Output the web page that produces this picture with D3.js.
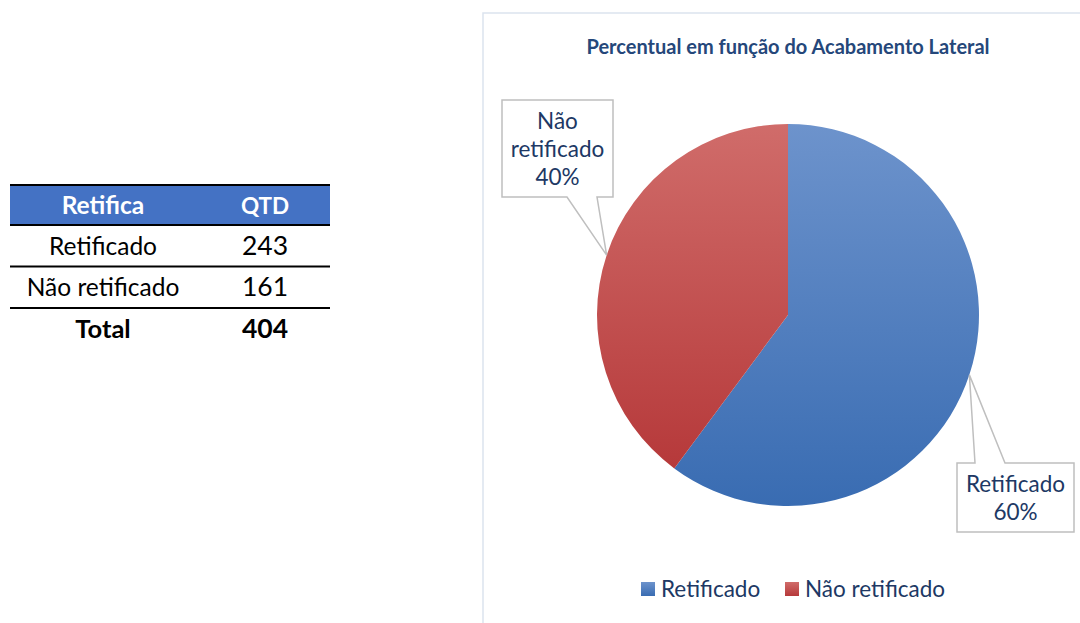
<!DOCTYPE html>
<html>
<head>
<meta charset="utf-8">
<script src="https://cdn.jsdelivr.net/npm/d3@7"></script>
<style>
  body { margin: 0; background: #fff; }
  svg { display: block; font-family: Lato, "Open Sans", sans-serif; }
</style>
</head>
<body>
<div id="chart"></div>
<script>
// data
const categories = ['Retificado', 'Não retificado'];
const quantities = [243, 161];
const tableHeader = ['Retifica', 'QTD'];
const chartTitle = 'Percentual em função do Acabamento Lateral';

const width = 1080, height = 623;
const svg = d3.select('#chart').append('svg')
    .attr('width', width)
    .attr('height', height);

const defs = svg.append('defs');
const gradStops = [
    ['#6d93cc', '#396cb2'],
    ['#d06c6a', '#b6393a']
];
gradStops.forEach((s, i) => {
    const g = defs.append('linearGradient')
        .attr('id', 'grad' + i)
        .attr('x1', 0).attr('y1', 0).attr('x2', 0).attr('y2', 1);
    g.append('stop').attr('offset', '0%').attr('stop-color', s[0]);
    g.append('stop').attr('offset', '100%').attr('stop-color', s[1]);
});

// ---- table ----
const tbl = svg.append('g').attr('class', 'table');
const tX = 10, tW = 320;
const colX = d3.scaleOrdinal().domain([0, 1]).range([103, 265]);
const headerTop = 185, headerH = 40;
const rowY = d3.scaleBand()
    .domain(d3.range(3))
    .range([headerTop + headerH, headerTop + headerH + 3 * 41.5]);

tbl.append('rect')
    .attr('x', tX).attr('y', headerTop)
    .attr('width', tW).attr('height', headerH)
    .attr('fill', '#4472c4');
tbl.append('line')
    .attr('x1', tX).attr('x2', tX + tW)
    .attr('y1', headerTop).attr('y2', headerTop)
    .attr('stroke', '#000').attr('stroke-width', 2);

tbl.selectAll('.hdr')
    .data(tableHeader)
    .enter().append('text')
    .attr('class', 'hdr')
    .attr('x', (d, i) => colX(i))
    .attr('y', headerTop + 29)
    .attr('text-anchor', 'middle')
    .attr('fill', '#fff')
    .style('font-weight', 'bold')
    .style('font-size', (d, i) => i === 1 ? '22.5px' : '24.5px')
    .text(d => d);

const total = d3.sum(quantities);
const rows = categories.map((c, i) => ({ label: c, value: quantities[i], bold: false }))
    .concat([{ label: 'Total', value: total, bold: true }]);

rows.forEach((r, i) => {
    const y0 = rowY(i);
    const rh = rowY.bandwidth();
    [r.label, r.value].forEach((t, j) => {
        tbl.append('text')
            .attr('x', colX(j))
            .attr('y', y0 + rh / 2 + 9)
            .attr('text-anchor', 'middle')
            .attr('fill', '#000')
            .style('font-size', j === 1 ? '26.5px' : (r.bold ? '25.5px' : '24.5px'))
            .style('font-weight', r.bold ? 'bold' : 'normal')
            .text(t);
    });
    // border above every row (the first is the header bottom)
    tbl.append('line')
        .attr('x1', tX).attr('x2', tX + tW)
        .attr('y1', y0).attr('y2', y0)
        .attr('stroke', '#000').attr('stroke-width', 2);
});

// ---- chart frame ----
svg.append('path')
    .attr('d', `M483,${height} V13 H${width}`)
    .attr('fill', 'none')
    .attr('stroke', '#dbe3ee')
    .attr('stroke-width', 1.5);

svg.append('text')
    .attr('x', 788).attr('y', 54)
    .attr('text-anchor', 'middle')
    .attr('fill', '#25477a')
    .style('font-weight', 'bold')
    .style('font-size', '20px')
    .text(chartTitle);

// ---- pie ----
const cx = 788, cy = 315, r = 191;
const pie = d3.pie().sort(null).value(d => d.value);
const arcs = pie(categories.map((c, i) => ({ name: c, value: quantities[i] })));
const arc = d3.arc().innerRadius(0).outerRadius(r);
const edge = d3.arc().innerRadius(r).outerRadius(r);

const pieG = svg.append('g').attr('transform', `translate(${cx},${cy})`);
pieG.selectAll('path.slice')
    .data(arcs)
    .enter().append('path')
    .attr('class', 'slice')
    .attr('d', arc)
    .attr('fill', (d, i) => `url(#grad${i})`);

// callouts
const fmt = d3.format('.0%');
const callouts = [
    { box: [957, 463, 117, 69], base: [975, 1005], side: 'top', lines: d => [d.data.name, fmt(d.value / total)] },
    { box: [502, 100, 111, 97], base: [567, 597], side: 'bottom', lines: d => ['Não', 'retificado', fmt(d.value / total)] }
];

arcs.forEach((d, i) => {
    const c = callouts[i];
    const [bx, by, bw, bh] = c.box;
    const tip = edge.centroid(d);
    const tx = tip[0] + cx, ty = tip[1] + cy;
    let p;
    if (c.side === 'top') {
        p = `M${bx},${by} H${c.base[0]} L${tx},${ty} L${c.base[1]},${by} H${bx + bw} V${by + bh} H${bx} Z`;
    } else {
        p = `M${bx},${by} H${bx + bw} V${by + bh} H${c.base[1]} L${tx},${ty} L${c.base[0]},${by + bh} H${bx} Z`;
    }
    svg.append('path')
        .attr('d', p)
        .attr('fill', '#fff')
        .attr('stroke', '#bfbfbf')
        .attr('stroke-width', 1.5);
    const ls = c.lines(d);
    const lh = 28;
    const startY = by + bh / 2 - (ls.length - 1) * lh / 2 + 8;
    svg.append('text')
        .attr('text-anchor', 'middle')
        .attr('fill', '#203864')
        .style('font-size', '22.5px')
        .selectAll('tspan')
        .data(ls)
        .enter().append('tspan')
        .attr('x', bx + bw / 2)
        .attr('y', (t, k) => startY + k * lh)
        .text(t => t);
});

// legend
const legend = svg.append('g').attr('class', 'legend');
const legX = [641, 785];
categories.forEach((c, i) => {
    legend.append('rect')
        .attr('x', legX[i]).attr('y', 582)
        .attr('width', 14).attr('height', 14)
        .attr('fill', `url(#grad${i})`);
    legend.append('text')
        .attr('x', legX[i] + 20).attr('y', 597)
        .attr('fill', '#203864')
        .style('font-size', '22.5px')
        .text(c);
});
</script>
</body>
</html>
